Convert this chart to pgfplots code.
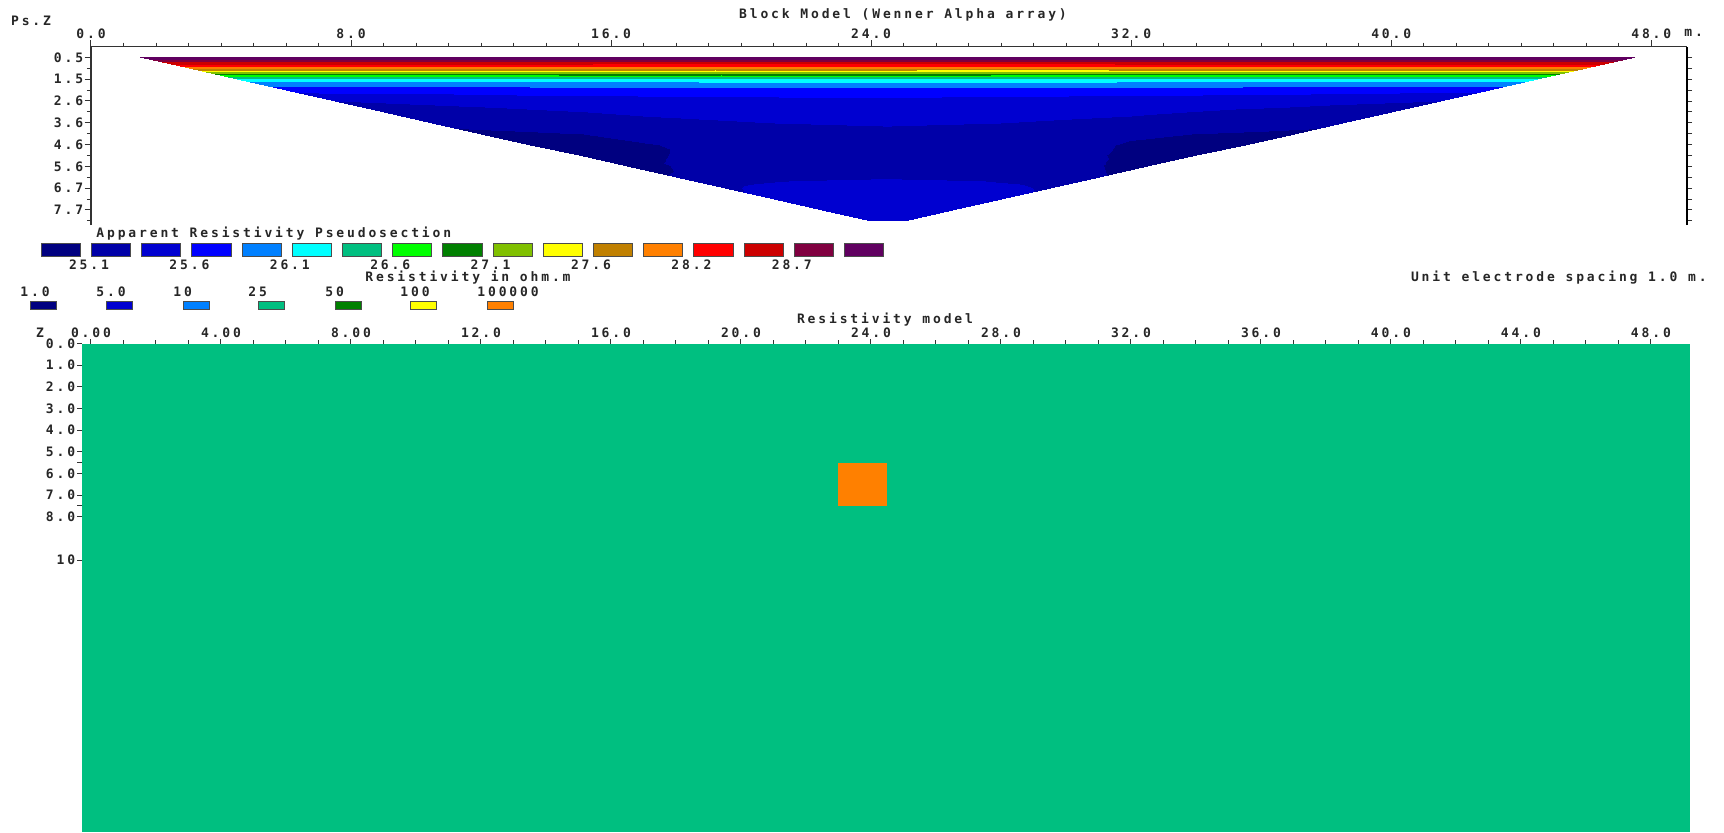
\documentclass[border=0pt]{standalone}
\usepackage{fontspec}
\newfontfamily\pix[LetterSpace=22]{DejaVu Sans Mono}
\usepackage{pgfplots}
\pgfplotsset{compat=1.18}
\newcommand\pf{\pix\bfseries\fontsize{6.5pt}{7.5pt}\selectfont}
\definecolor{c1}{RGB}{0,0,128}
\definecolor{c2}{RGB}{0,0,168}
\definecolor{c3}{RGB}{0,0,208}
\definecolor{c4}{RGB}{0,0,255}
\definecolor{c5}{RGB}{0,128,255}
\definecolor{c6}{RGB}{0,255,255}
\definecolor{c7}{RGB}{0,191,128}
\definecolor{c8}{RGB}{0,255,0}
\definecolor{c9}{RGB}{0,128,0}
\definecolor{c10}{RGB}{128,192,0}
\definecolor{c11}{RGB}{255,255,0}
\definecolor{c12}{RGB}{192,128,0}
\definecolor{c13}{RGB}{255,128,0}
\definecolor{c14}{RGB}{255,0,0}
\definecolor{c15}{RGB}{204,0,0}
\definecolor{c16}{RGB}{128,0,64}
\definecolor{c17}{RGB}{96,0,96}
\begin{document}
\begin{tikzpicture}
\begin{scope}[x=0.5pt,y=-0.5pt]
\path[use as bounding box] (0,0) rectangle (1724,832);
\end{scope}

% ---------- pseudosection (shaded data) ----------
\begin{axis}[at={(45.5pt,-23.25pt)}, anchor=north west, scale only axis,
  width=798pt, height=89.25pt, xmin=0, xmax=49.1, ymin=-8.5, ymax=0,
  zmin=24, zmax=30, view={0}{90}, hide axis,
  colormap={pseudo}{rgb255=(0,0,128) rgb255=(0,0,168) rgb255=(0,0,208) rgb255=(0,0,255)
    rgb255=(0,128,255) rgb255=(0,255,255) rgb255=(0,191,128) rgb255=(0,255,0)
    rgb255=(0,128,0) rgb255=(128,192,0) rgb255=(255,255,0) rgb255=(192,128,0)
    rgb255=(255,128,0) rgb255=(255,0,0) rgb255=(204,0,0) rgb255=(128,0,64)
    rgb255=(96,0,96)},
  colormap access=piecewise constant,
  point meta min=24.85, point meta max=29.1]
\addplot3[surf, shader=interp, mesh/cols=9] table {
x y z
1.5 -0.519 29.15
7.25 -0.519 29.15
13 -0.519 29.15
18.75 -0.519 29.15
24.5 -0.519 29.15
30.25 -0.519 29.15
36 -0.519 29.15
41.75 -0.519 29.15
47.5 -0.519 29.15
3 -1.038 27.95
8.375 -1.038 27.95
13.75 -1.038 27.95
19.125 -1.038 27.9
24.5 -1.038 27.9
29.875 -1.038 27.9
35.25 -1.038 27.95
40.625 -1.038 27.95
46 -1.038 27.95
4.5 -1.557 26.2
9.5 -1.557 26.2
14.5 -1.557 26.22
19.5 -1.557 26.25
24.5 -1.557 26.3
29.5 -1.557 26.25
34.5 -1.557 26.22
39.5 -1.557 26.2
44.5 -1.557 26.2
6 -2.076 25.68
10.625 -2.076 25.7
15.25 -2.076 25.72
19.875 -2.076 25.72
24.5 -2.076 25.72
29.125 -2.076 25.72
33.75 -2.076 25.72
38.375 -2.076 25.7
43 -2.076 25.68
7.5 -2.595 25.35
11.75 -2.595 25.42
16 -2.595 25.48
20.25 -2.595 25.52
24.5 -2.595 25.55
28.75 -2.595 25.52
33 -2.595 25.48
37.25 -2.595 25.42
41.5 -2.595 25.35
9 -3.114 25.22
12.875 -3.114 25.3
16.75 -3.114 25.38
20.625 -3.114 25.43
24.5 -3.114 25.45
28.375 -3.114 25.43
32.25 -3.114 25.38
36.125 -3.114 25.3
40 -3.114 25.22
10.5 -3.633 25.15
14 -3.633 25.22
17.5 -3.633 25.3
21 -3.633 25.35
24.5 -3.633 25.37
28 -3.633 25.35
31.5 -3.633 25.3
35 -3.633 25.22
38.5 -3.633 25.15
12 -4.152 25.05
15.125 -4.152 25.1
18.25 -4.152 25.22
21.375 -4.152 25.28
24.5 -4.152 25.3
27.625 -4.152 25.28
30.75 -4.152 25.22
33.875 -4.152 25.1
37 -4.152 25.05
13.5 -4.671 24.95
16.25 -4.671 25.02
19 -4.671 25.2
21.75 -4.671 25.27
24.5 -4.671 25.28
27.25 -4.671 25.27
30 -4.671 25.2
32.75 -4.671 25.02
35.5 -4.671 24.95
15 -5.19 24.95
17.375 -5.19 25.08
19.75 -5.19 25.2
22.125 -5.19 25.27
24.5 -5.19 25.3
26.875 -5.19 25.27
29.25 -5.19 25.2
31.625 -5.19 25.08
34 -5.19 24.95
16.5 -5.709 25.0
18.5 -5.709 25.15
20.5 -5.709 25.25
22.5 -5.709 25.3
24.5 -5.709 25.32
26.5 -5.709 25.3
28.5 -5.709 25.25
30.5 -5.709 25.15
32.5 -5.709 25.0
18 -6.228 25.12
19.625 -6.228 25.22
21.25 -6.228 25.28
22.875 -6.228 25.3
24.5 -6.228 25.32
26.125 -6.228 25.3
27.75 -6.228 25.28
29.375 -6.228 25.22
31 -6.228 25.12
19.5 -6.747 25.3
20.75 -6.747 25.42
22 -6.747 25.48
23.25 -6.747 25.5
24.5 -6.747 25.52
25.75 -6.747 25.5
27 -6.747 25.48
28.25 -6.747 25.42
29.5 -6.747 25.3
21 -7.266 25.45
21.875 -7.266 25.5
22.75 -7.266 25.52
23.625 -7.266 25.55
24.5 -7.266 25.55
25.375 -7.266 25.55
26.25 -7.266 25.52
27.125 -7.266 25.5
28 -7.266 25.45
22.5 -7.785 25.5
23 -7.785 25.5
23.5 -7.785 25.5
24 -7.785 25.5
24.5 -7.785 25.5
25 -7.785 25.5
25.5 -7.785 25.5
26 -7.785 25.5
26.5 -7.785 25.5
24 -8.304 25.5
24.125 -8.304 25.5
24.25 -8.304 25.5
24.375 -8.304 25.5
24.5 -8.304 25.5
24.625 -8.304 25.5
24.75 -8.304 25.5
24.875 -8.304 25.5
25 -8.304 25.5
};
\end{axis}

% ---------- pseudosection frame (top/left) ----------
\begin{axis}[at={(45.5pt,-23.25pt)}, anchor=north west, scale only axis,
  width=798pt, height=89.25pt, xmin=0, xmax=49.1, ymin=-8.5, ymax=0,
  axis x line*=top, axis y line*=left, tick align=outside,
  axis line style={line width=0.6pt, black!80},
  every tick/.style={line width=0.5pt, black!80},
  major tick length=3.2pt, minor tick length=2pt,
  xtick={0,8,16,24,32,40,48},
  xticklabels={0.0,8.0,16.0,24.0,32.0,40.0,48.0},
  minor x tick num=7,
  ytick={-0.519,-1.557,-2.595,-3.633,-4.671,-5.709,-6.747,-7.785},
  yticklabels={0.5,1.5,2.6,3.6,4.6,5.6,6.7,7.7},
  minor ytick={-1.038,-2.076,-3.114,-4.152,-5.19,-6.228,-7.266,-8.304},
  tick label style={font=\pf, text=black!85},
  xticklabel style={inner sep=0.7pt},
  yticklabel style={inner sep=0.5pt}]
\end{axis}

% ---------- pseudosection frame (right) ----------
\begin{axis}[at={(45.5pt,-23.25pt)}, anchor=north west, scale only axis,
  width=798pt, height=89.25pt, xmin=0, xmax=49.1, ymin=-8.5, ymax=0,
  axis y line*=right, axis x line=none, tick align=outside,
  axis line style={line width=0.8pt, black},
  every tick/.style={line width=0.5pt, black!80},
  major tick length=2.5pt,
  ytick={-0.519,-1.038,-1.557,-2.076,-2.595,-3.114,-3.633,-4.152,-4.671,-5.19,-5.709,-6.228,-6.747,-7.266,-7.785,-8.304},
  yticklabels={}]
\end{axis}

% ---------- resistivity model ----------
\begin{axis}[at={(40.95pt,-171.75pt)}, anchor=north west, scale only axis,
  width=804pt, height=244.25pt, xmin=-0.28, xmax=49.2, ymin=-22.56, ymax=0,
  axis x line*=top, axis y line*=left, tick align=outside,
  axis line style={draw=none},
  every tick/.style={line width=0.5pt, black!80},
  major tick length=2.2pt, minor tick length=1.7pt,
  xtick={0,4,8,12,16,20,24,28,32,36,40,44,48},
  xticklabels={0.00,4.00,8.00,12.0,16.0,20.0,24.0,28.0,32.0,36.0,40.0,44.0,48.0},
  minor x tick num=3,
  ytick={0,-1,-2,-3,-4,-5,-5.5,-6,-7,-7.5,-8,-10},
  yticklabels={0.0,1.0,2.0,3.0,4.0,5.0,{},6.0,7.0,{},8.0,10},
  tick label style={font=\pf, text=black!85},
  xticklabel style={inner sep=0.7pt},
  yticklabel style={inner sep=1pt}]
\addplot[fill=c7, draw=none] coordinates {(-0.28,0) (49.2,0) (49.2,-22.56) (-0.28,-22.56)} -- cycle;
\addplot[fill=c13, draw=none] coordinates {(23,-5.5) (24.5,-5.5) (24.5,-7.5) (23,-7.5)} -- cycle;
\end{axis}

% ---------- texts and colour legends ----------
\begin{scope}[x=0.5pt,y=-0.5pt, every node/.style={font=\pf, text=black!85, inner sep=0pt}]
\node[anchor=west] at (10.7,20.7) {Ps.Z};
\node at (903,15) {Block Model (Wenner Alpha array)};
\node[anchor=west] at (1684,33.3) {m.};
\node[anchor=west] at (96,234) {Apparent Resistivity Pseudosection};
\foreach \c [count=\k from 0] in {c1,c2,c3,c4,c5,c6,c7,c8,c9,c10,c11,c12,c13,c14,c15,c16,c17}
  \draw[fill=\c, draw=black!70, line width=0.5pt] ({41.3+50.2*\k},243.3) rectangle ++(39.1,13.4);
\foreach \t [count=\k from 0] in {25.1,25.6,26.1,26.6,27.1,27.6,28.2,28.7}
  \node at ({89+100.4*\k},265) {\t};
\node at (468,277.8) {Resistivity in ohm.m};
\node[anchor=east] at (1707,277.3) {Unit electrode spacing 1.0 m.};
\foreach \t/\c/\xl in {1.0/c1/30,5.0/c3/106,10/c5/183,25/c7/258,50/c9/335,100/c11/410,100000/c13/487}{
  \node[anchor=west] at (\xl-10,292) {\t};
  \draw[fill=\c, draw=black!70, line width=0.5pt] (\xl,301.7) rectangle ++(26,7.6);
}
\node at (885,319.3) {Resistivity model};
\node at (40,333) {Z};
\end{scope}
\end{tikzpicture}
\end{document}
